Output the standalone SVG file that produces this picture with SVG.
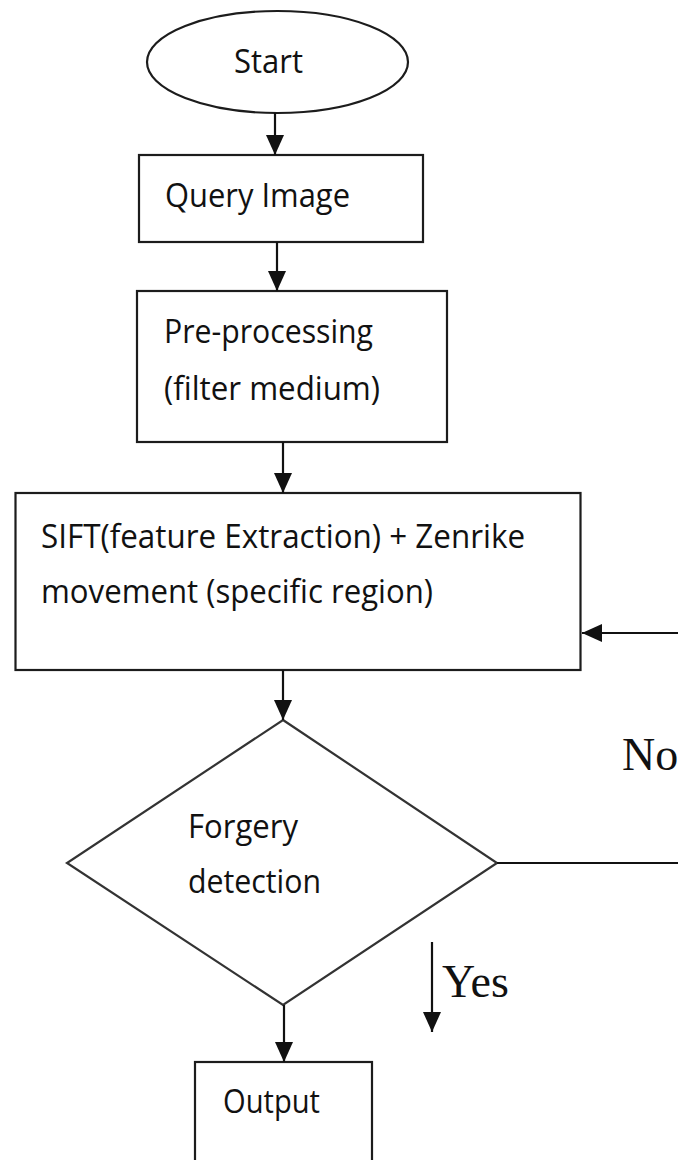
<svg xmlns="http://www.w3.org/2000/svg" width="678" height="1160" viewBox="0 0 678 1160">
  <defs>
    <marker id="arrow" markerUnits="userSpaceOnUse" markerWidth="20" markerHeight="18" viewBox="0 0 20 18" refX="20" refY="9" orient="auto">
      <path d="M0,0 L20,9 L0,18 z" fill="#111"/>
    </marker>
  </defs>
  <style>
    .shape { fill: #fff; stroke: #1c1c1c; stroke-width: 2.2; }
    .diamond { fill: #fff; stroke: #333; stroke-width: 2.2; }
    .conn { fill: none; stroke: #111; stroke-width: 2.2; }
    .lbl { font-family: "Open Sans", "Liberation Sans", sans-serif; font-size: 32px; fill: #111; }
    .tag { font-family: "Liberation Serif", "Times New Roman", serif; font-size: 46px; fill: #111; }
  </style>
  <rect width="678" height="1160" fill="#fff"/>

  <g id="start">
    <ellipse class="shape" cx="277.5" cy="62" rx="130.5" ry="51"/>
    <text class="lbl" x="234" y="73" textLength="69" lengthAdjust="spacingAndGlyphs">Start</text>
  </g>

  <g id="query-image">
    <rect class="shape" x="139" y="155" width="284" height="87"/>
    <text class="lbl" x="165" y="207" textLength="185" lengthAdjust="spacingAndGlyphs">Query Image</text>
  </g>

  <g id="pre-processing">
    <rect class="shape" x="137" y="291" width="310" height="151"/>
    <text class="lbl" x="164" y="343" textLength="209" lengthAdjust="spacingAndGlyphs">Pre-processing</text>
    <text class="lbl" x="164" y="400" textLength="216" lengthAdjust="spacingAndGlyphs">(filter medium)</text>
  </g>

  <g id="sift">
    <rect class="shape" x="15.5" y="493" width="565" height="177"/>
    <text class="lbl" x="41" y="548" textLength="484" lengthAdjust="spacingAndGlyphs">SIFT(feature Extraction) + Zenrike</text>
    <text class="lbl" x="41" y="603" textLength="392" lengthAdjust="spacingAndGlyphs">movement (specific region)</text>
  </g>

  <g id="forgery-detection">
    <polygon class="diamond" points="283,720 497,863 283,1005 67,863"/>
    <text class="lbl" x="188" y="838" textLength="110" lengthAdjust="spacingAndGlyphs">Forgery</text>
    <text class="lbl" x="188" y="893" textLength="133" lengthAdjust="spacingAndGlyphs">detection</text>
  </g>

  <g id="output">
    <rect class="shape" x="195" y="1062" width="177" height="110"/>
    <text class="lbl" x="223" y="1113" textLength="97" lengthAdjust="spacingAndGlyphs">Output</text>
  </g>

  <g id="connectors">
    <line class="conn" x1="275" y1="113" x2="275" y2="155" marker-end="url(#arrow)"/>
    <line class="conn" x1="277" y1="242" x2="277" y2="291" marker-end="url(#arrow)"/>
    <line class="conn" x1="283" y1="442" x2="283" y2="493" marker-end="url(#arrow)"/>
    <line class="conn" x1="283" y1="670" x2="283" y2="720" marker-end="url(#arrow)"/>
    <line class="conn" x1="497" y1="863" x2="678" y2="863"/>
    <line class="conn" x1="678" y1="633" x2="582" y2="633" marker-end="url(#arrow)"/>
    <line class="conn" x1="284" y1="1005" x2="284" y2="1062" marker-end="url(#arrow)"/>
    <line class="conn" x1="432" y1="942" x2="432" y2="1032" marker-end="url(#arrow)"/>
    <text class="tag" x="622" y="770">No</text>
    <text class="tag" x="442" y="997">Yes</text>
  </g>
</svg>
